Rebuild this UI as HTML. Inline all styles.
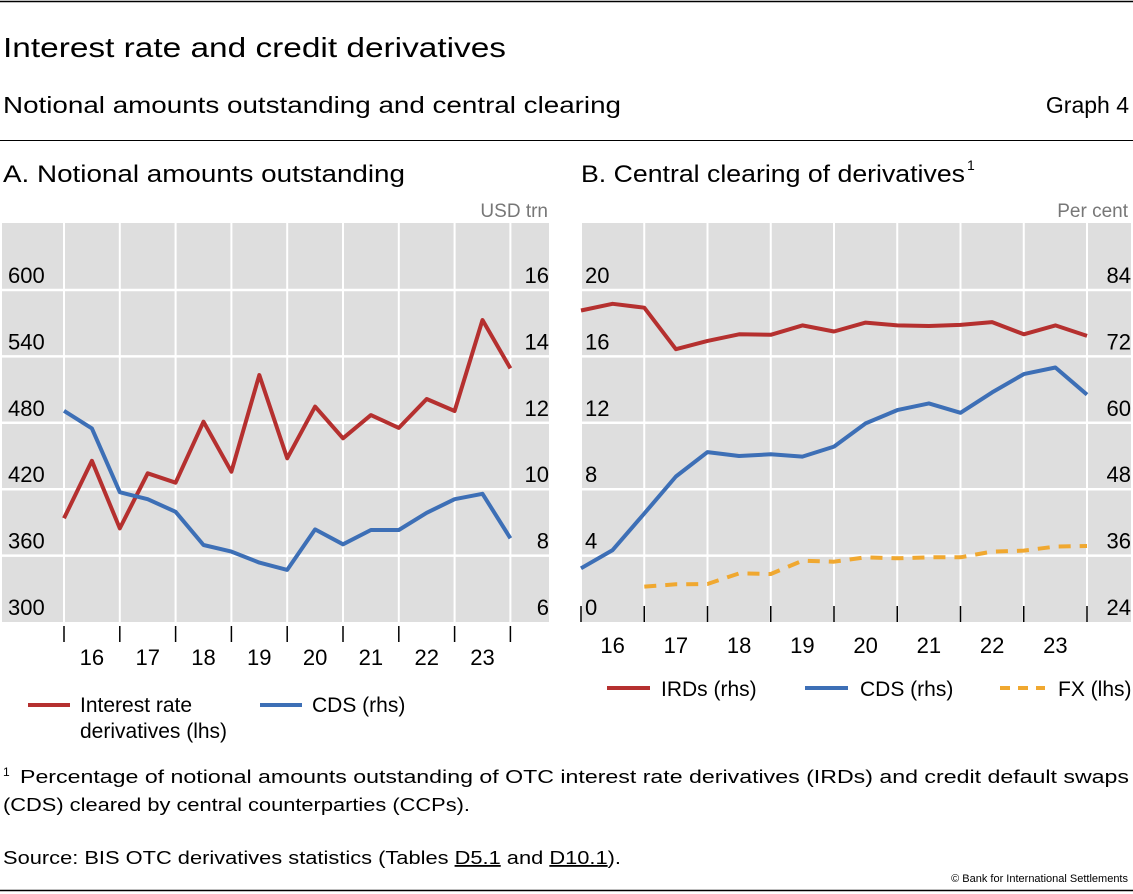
<!DOCTYPE html>
<html><head><meta charset="utf-8"><style>
html,body{margin:0;padding:0;background:#fff;}
svg{display:block;font-family:"Liberation Sans",sans-serif;}
</style></head><body>
<svg id="root" width="1133" height="894" viewBox="0 0 1133 894">
<line x1="0" y1="1.5" x2="1133" y2="1.5" stroke="#000" stroke-width="1.5"/>
<text x="3" y="57" font-size="28" textLength="503" lengthAdjust="spacingAndGlyphs">Interest rate and credit derivatives</text>
<text x="3" y="113" font-size="23" textLength="618" lengthAdjust="spacingAndGlyphs">Notional amounts outstanding and central clearing</text>
<text x="1129" y="113" font-size="23" text-anchor="end">Graph 4</text>
<line x1="0" y1="140.5" x2="1133" y2="140.5" stroke="#000" stroke-width="1"/>
<text x="3" y="182" font-size="24" textLength="402" lengthAdjust="spacingAndGlyphs">A. Notional amounts outstanding</text>
<text x="581" y="182" font-size="24" textLength="384" lengthAdjust="spacingAndGlyphs">B. Central clearing of derivatives</text>
<text x="967" y="170" font-size="14">1</text>
<text x="548" y="217" font-size="19" fill="#777" text-anchor="end">USD trn</text>
<text x="1128" y="217" font-size="19" fill="#777" text-anchor="end">Per cent</text>
<g id="pa"></g>
<g id="pb"></g>
<g>
<line x1="28" y1="705" x2="70" y2="705" stroke="#b5302f" stroke-width="4"/>
<text x="80" y="712" font-size="21">Interest rate</text>
<text x="80" y="738" font-size="21">derivatives (lhs)</text>
<line x1="260" y1="705" x2="302" y2="705" stroke="#3d6fb6" stroke-width="4"/>
<text x="312" y="712" font-size="21">CDS (rhs)</text>
</g>
<g>
<line x1="607" y1="688" x2="650" y2="688" stroke="#b5302f" stroke-width="4"/>
<text x="661" y="696" font-size="21">IRDs (rhs)</text>
<line x1="805" y1="688" x2="848" y2="688" stroke="#3d6fb6" stroke-width="4"/>
<text x="860" y="696" font-size="21">CDS (rhs)</text>
<line x1="1000" y1="688" x2="1045" y2="688" stroke="#f0a830" stroke-width="4" stroke-dasharray="10,8"/>
<text x="1058" y="696" font-size="21">FX (lhs)</text>
</g>
<text x="3" y="776" font-size="12">1</text>
<text x="20" y="783" font-size="18" textLength="1109" lengthAdjust="spacingAndGlyphs">Percentage of notional amounts outstanding of OTC interest rate derivatives (IRDs) and credit default swaps</text>
<text x="3" y="811" font-size="18" textLength="467" lengthAdjust="spacingAndGlyphs">(CDS) cleared by central counterparties (CCPs).</text>
<text x="3" y="864" font-size="18" textLength="618" lengthAdjust="spacingAndGlyphs">Source: BIS OTC derivatives statistics (Tables <tspan text-decoration="underline">D5.1</tspan> and <tspan text-decoration="underline">D10.1</tspan>).</text>
<text x="1128" y="882" font-size="11" text-anchor="end">© Bank for International Settlements</text>
<line x1="0" y1="890.5" x2="1133" y2="890.5" stroke="#000" stroke-width="1.5"/>
</svg>
<script>
const years = ["16","17","18","19","20","21","22","23"];
const aLeftTicks = [300,360,420,480,540,600];
const aRightTicks = [6,8,10,12,14,16];
const irdNotional = [393.7,445.7,384.6,434.4,425.9,481,435.8,523.2,447.9,494.6,466,487,475.4,501.5,490.7,572.9,529.2];
const cdsNotional = [12.36,11.83,9.91,9.70,9.32,8.32,8.12,7.79,7.57,8.79,8.34,8.77,8.77,9.29,9.70,9.86,8.52];
const bLeftTicks = [0,4,8,12,16,20];
const bRightTicks = [24,36,48,60,72,84];
const irdCleared = [80.3,81.5,80.8,73.3,74.8,76.0,75.9,77.6,76.5,78.1,77.6,77.5,77.7,78.2,76.0,77.6,75.7];
const cdsCleared = [33.7,37.0,43.6,50.3,54.7,54.0,54.3,53.9,55.7,59.9,62.3,63.5,61.8,65.5,68.8,70.0,65.1];
const fxCleared = [null,null,2.13,2.27,2.29,2.93,2.89,3.69,3.63,3.90,3.84,3.90,3.90,4.24,4.30,4.54,4.58];

const NS="http://www.w3.org/2000/svg";
function mk(parent,tag,attrs){const e=document.createElementNS(NS,tag);for(const k in attrs)e.setAttribute(k,attrs[k]);parent.appendChild(e);return e;}
const plotTop=223, plotBot=622, baseY=622, topY=290;

function panel(g,cfg){
  const bg=mk(g,'rect',{x:cfg.x0,y:plotTop,width:cfg.x1-cfg.x0,height:plotBot-plotTop,fill:'#dedede'});
  
  
  const yl=v=>baseY-(v-cfg.lt[0])/(cfg.lt[cfg.lt.length-1]-cfg.lt[0])*(baseY-topY);
  const yr=v=>baseY-(v-cfg.rt[0])/(cfg.rt[cfg.rt.length-1]-cfg.rt[0])*(baseY-topY);
  const xt=i=>cfg.tx0+i*cfg.step;
  const xp=k=>cfg.tx0+k*cfg.step/2;
  for(let i=0;i<=years.length;i++){
    const l=mk(g,'line',{x1:xt(i),x2:xt(i),y1:plotTop,y2:plotBot,stroke:'#fff','stroke-width':2});
    
    
    const t=mk(g,'line',{x1:xt(i),x2:xt(i),y1:cfg.tickY1,y2:cfg.tickY2,stroke:'#000','stroke-width':1.5});
    
    
  }
  cfg.lt.forEach((v,i)=>{
    if(i>0){const l=mk(g,'line',{x1:cfg.x0,x2:cfg.x1,y1:yl(v),y2:yl(v),stroke:'#fff','stroke-width':2.5});
    
    }
    const t=mk(g,'text',{x:cfg.lx,y:yl(v)-7,'font-size':22});t.textContent=v;
    
    
  });
  cfg.rt.forEach(v=>{
    const t=mk(g,'text',{x:cfg.rx,y:yr(v)-7,'font-size':22,'text-anchor':'end'});t.textContent=v;
    
    
  });
  years.forEach((y,i)=>{
    const t=mk(g,'text',{x:xt(i)+cfg.step/2,y:cfg.yearY,'font-size':22,'text-anchor':'middle'});t.textContent=y;
    
    
  });
  cfg.series.forEach(s=>{
    const sc=s.axis==='l'?yl:yr;
    const pts=[];s.data.forEach((v,k)=>{if(v!==null)pts.push(xp(k).toFixed(1)+','+sc(v).toFixed(1));});
    const a={points:pts.join(' '),fill:'none',stroke:s.color,'stroke-width':4,'stroke-linejoin':'round'};
    if(s.dash)a['stroke-dasharray']=s.dash;
    const p=mk(g,'polyline',a);
    
    
  });
}
panel(document.getElementById('pa'),{x0:2,x1:549,tx0:64,step:55.8,tickY1:626,tickY2:642,lt:aLeftTicks,rt:aRightTicks,lx:8,rx:549,yearY:665,
  series:[{data:irdNotional,axis:'l',color:'#b5302f',name:'ird-notional-line'},{data:cdsNotional,axis:'r',color:'#3d6fb6',name:'cds-notional-line'}]});
panel(document.getElementById('pb'),{x0:581,x1:1131,tx0:581,step:63.25,tickY1:606,tickY2:622,lt:bLeftTicks,rt:bRightTicks,lx:585,rx:1131,yearY:653,
  series:[{data:irdCleared,axis:'r',color:'#b5302f',name:'ird-cleared-line'},{data:cdsCleared,axis:'r',color:'#3d6fb6',name:'cds-cleared-line'},{data:fxCleared,axis:'l',color:'#f0a830',dash:'12,9',name:'fx-cleared-line'}]});
</script>
</body></html>
